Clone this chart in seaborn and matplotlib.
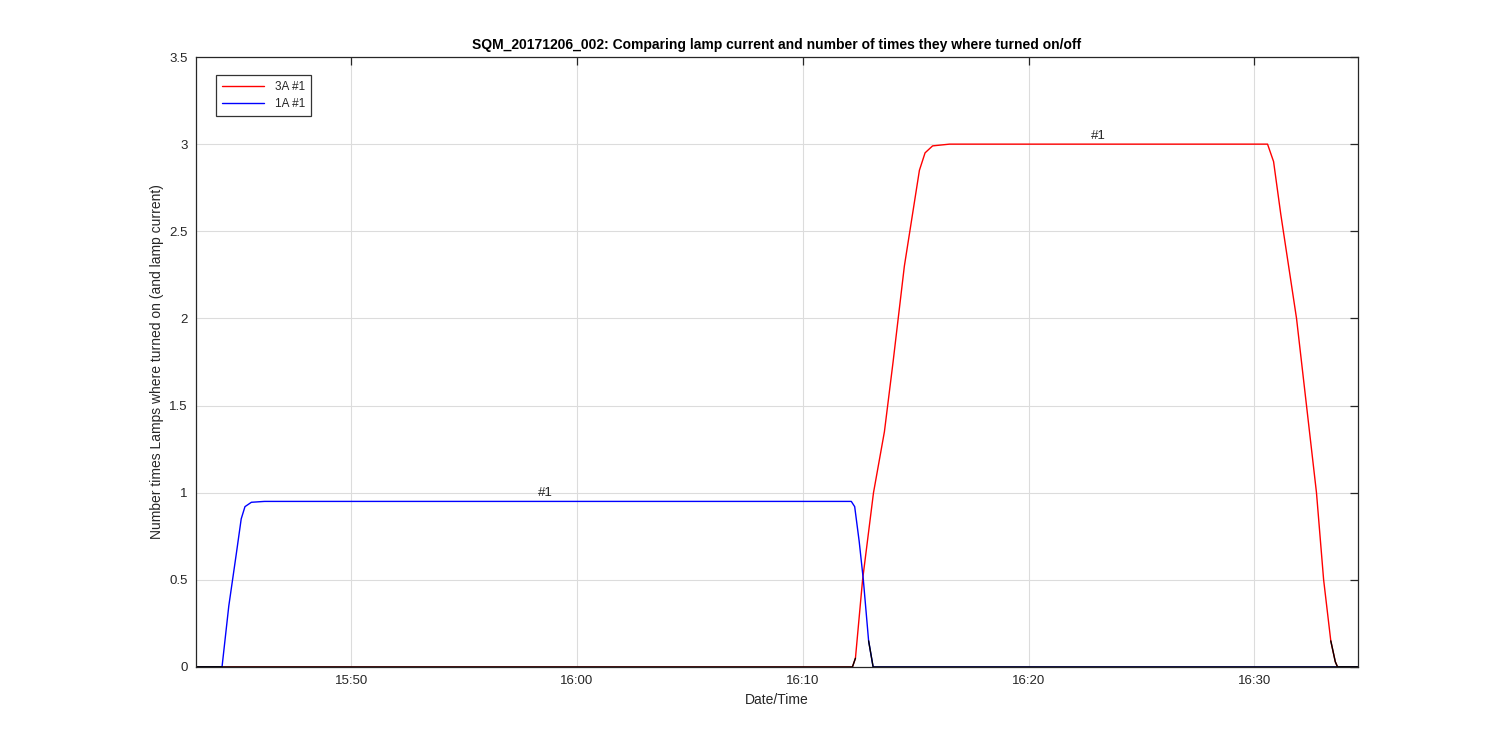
import numpy as np
import pandas as pd
import matplotlib
matplotlib.use("Agg")
import matplotlib.pyplot as plt
import matplotlib.dates as mdates
import seaborn as sns

DAY = "2017-12-06 "

# 3A lamp #1
t_3a = ["15:43:08", "16:12:12", "16:12:20", "16:12:39", "16:13:08", "16:13:37",
        "16:14:00", "16:14:30", "16:15:10", "16:15:25", "16:15:45", "16:16:30",
        "16:30:35", "16:30:51", "16:31:10", "16:31:52", "16:32:45", "16:33:04",
        "16:33:23", "16:33:35", "16:33:41", "16:34:34"]
v_3a = [0, 0, 0.05, 0.5, 1.0, 1.35,
        1.75, 2.3, 2.85, 2.95, 2.99, 3.0,
        3.0, 2.9, 2.6, 2.0, 1.0, 0.5,
        0.15, 0.03, 0, 0]

# 1A lamp #1
t_1a = ["15:43:08", "15:44:17", "15:44:35", "15:44:55", "15:45:08", "15:45:18",
        "15:45:35", "15:46:10", "16:12:09", "16:12:18", "16:12:30", "16:12:41",
        "16:12:55", "16:13:07", "16:34:34"]
v_1a = [0, 0, 0.35, 0.65, 0.85, 0.92,
        0.945, 0.95, 0.95, 0.92, 0.72, 0.5,
        0.15, 0, 0]

labels = ["3A #1", "1A #1"]
colors = ["red", "blue"]
ann_times = ["16:23:05", "15:58:37"]
ann_text = ["#1", "#1"]

TITLE = "SQM_20171206_002: Comparing lamp current and number of times they where turned on/off"

sns.set_style("white")
plt.rcParams["font.family"] = ["Liberation Sans", "DejaVu Sans"]

fig = plt.figure(figsize=(15, 7.5), dpi=100)
ax = fig.add_axes([0.1307, 0.1107, 0.7743, 0.8133])

series = [(t_3a, v_3a), (t_1a, v_1a)]
frames = []
for (ts, vs), lab, col in zip(series, labels, colors):
    df = pd.DataFrame({"time": pd.to_datetime([DAY + t for t in ts]), "value": vs})
    frames.append(df)
    sns.lineplot(data=df, x="time", y="value", color=col, lw=1.0, label=lab, ax=ax)

# lamp-off parts drawn in black on top
for df in frames:
    off = df["value"].where(df["value"] < 0.2)
    ax.plot(df["time"], off, color="black", lw=1.0, label="_nolegend_")

for tt, (ts, vs), txt in zip(ann_times, series, ann_text):
    ax.text(pd.Timestamp(DAY + tt), max(vs) + 0.015, txt, ha="center", va="bottom", fontsize=9.5)

ax.set_xlim(pd.Timestamp(DAY + t_3a[0]), pd.Timestamp(DAY + t_3a[-1]))
ax.set_ylim(0, 3.5)
ax.set_yticks(np.arange(0, 3.51, 0.5))
ax.set_yticklabels(["0", "0.5", "1", "1.5", "2", "2.5", "3", "3.5"])
ax.xaxis.set_major_locator(mdates.MinuteLocator(byminute=[0, 10, 20, 30, 40, 50]))
ax.xaxis.set_major_formatter(mdates.DateFormatter("%H:%M"))

ax.grid(True, color="#dcdcdc", lw=0.8)
ax.set_axisbelow(True)
for s in ax.spines.values():
    s.set_color("#262626")
    s.set_linewidth(0.9)
ax.tick_params(direction="in", length=6, width=0.9, top=True, right=True,
               labelsize=9.5, colors="#262626", pad=6)

ax.set_xlabel("Date/Time", fontsize=10, color="#262626")
ax.set_ylabel("Number times Lamps where turned on (and lamp current)", fontsize=10, color="#262626")
ax.set_title(TITLE, fontsize=10, fontweight="bold", color="black", pad=6)

leg = ax.legend(loc="upper left", bbox_to_anchor=(0.012, 0.98), fontsize=8.5,
                frameon=True, fancybox=False, edgecolor="black", handlelength=3.6,
                borderpad=0.5, labelspacing=0.4, handletextpad=0.9)
leg.get_frame().set_linewidth(0.9)

fig.savefig("out.png", dpi=100, facecolor="white")
